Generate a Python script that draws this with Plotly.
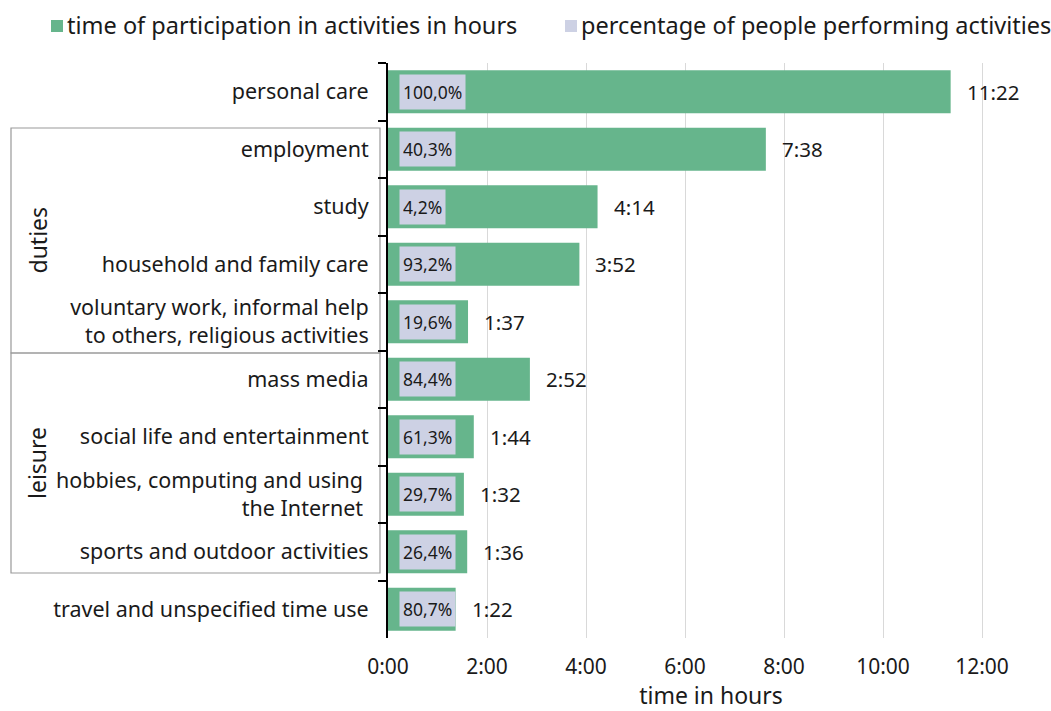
import plotly.graph_objects as go

categories = [
    "personal care",
    "employment",
    "study",
    "household and family care",
    "voluntary work, informal help<br>to others, religious activities",
    "mass media",
    "social life and entertainment",
    "hobbies, computing and using <br>the Internet ",
    "sports and outdoor activities",
    "travel and unspecified time use",
]
time_labels = ["11:22", "7:38", "4:14", "3:52", "1:37", "2:52", "1:44", "1:32", "1:36", "1:22"]
percent_labels = ["100,0%", "40,3%", "4,2%", "93,2%", "19,6%", "84,4%", "61,3%", "29,7%", "26,4%", "80,7%"]
x_tick_values = [0, 2, 4, 6, 8, 10, 12]
x_tick_labels = ["0:00", "2:00", "4:00", "6:00", "8:00", "10:00", "12:00"]
groups = ["duties", "leisure"]
legend_names = ["time of participation in activities in hours",
                "percentage of people performing activities"]


def to_hours(s):
    h, m = s.split(":")
    return int(h) + int(m) / 60.0


hours = [to_hours(t) for t in time_labels]

FONT = "Noto Sans"
GREEN = "#66b58c"
LAV = "#cdd1e4"
TXT = "#1a1a1a"
FS = 21.5

W, H = 1051, 711
L, R, T, B = 388, 1034, 63, 638
X_MAX = 12 * (R - L) / (982 - L)
pw, ph = R - L, B - T


def px_to_paper_x(px):
    return (px - L) / pw


def px_to_paper_y(py):
    return 1 - (py - T) / ph


def px_to_data_y(py):
    return -0.5 + (py - T) / (ph / len(categories))


fig = go.Figure()
fig.add_trace(go.Bar(
    y=categories, x=hours, orientation="h",
    marker=dict(color=GREEN, line=dict(width=0)),
    name=legend_names[0],
    hoverinfo="skip",
    showlegend=False,
))

annotations = []
for c, v, t, p in zip(categories, hours, time_labels, percent_labels):
    annotations.append(dict(
        x=0, y=c, xref="x", yref="y", text=p, showarrow=False,
        xanchor="left", yanchor="middle", xshift=11,
        bgcolor=LAV, borderpad=3, height=28,
        font=dict(family=FONT, size=17.5, color=TXT),
    ))
    annotations.append(dict(
        x=v, y=c, xref="x", yref="y", text=t, showarrow=False,
        xanchor="left", yanchor="middle", xshift=14,
        font=dict(family=FONT, size=20.5, color=TXT),
    ))

shapes = []
# group boxes and labels
box_tops = [128, 353]
box_bottoms = [353, 573]
for g, t0, b0 in zip(groups, box_tops, box_bottoms):
    shapes.append(dict(
        type="rect", xref="paper", yref="y",
        x0=px_to_paper_x(11), x1=px_to_paper_x(380),
        y0=px_to_data_y(t0), y1=px_to_data_y(b0),
        line=dict(color="#999999", width=1.2), fillcolor="rgba(0,0,0,0)",
        layer="below",
    ))
    annotations.append(dict(
        x=px_to_paper_x(37), y=px_to_data_y((t0 + b0) / 2), xref="paper", yref="y",
        text=g, textangle=-90, showarrow=False, xanchor="center", yanchor="middle",
        font=dict(family=FONT, size=23, color=TXT),
    ))

# manual legend
legend_colors = [GREEN, LAV]
legend_sq_x = [51, 565]
for name, col, sx in zip(legend_names, legend_colors, legend_sq_x):
    shapes.append(dict(
        type="rect", xref="paper", yref="paper",
        x0=px_to_paper_x(sx), x1=px_to_paper_x(sx + 12),
        y0=px_to_paper_y(32), y1=px_to_paper_y(20),
        line=dict(width=0), fillcolor=col,
    ))
    annotations.append(dict(
        x=px_to_paper_x(sx + 14), y=px_to_paper_y(25), xref="paper", yref="paper",
        text=name, showarrow=False, xanchor="left", yanchor="middle",
        font=dict(family=FONT, size=23.5, color=TXT),
    ))

fig.update_layout(
    width=W, height=H,
    margin=dict(l=L, r=W - R, t=T, b=H - B),
    paper_bgcolor="white", plot_bgcolor="white",
    bargap=0.25,
    showlegend=False,
    xaxis=dict(
        range=[0, X_MAX], tickvals=x_tick_values, ticktext=x_tick_labels,
        showgrid=True, gridcolor="#d9d9d9", gridwidth=1, zeroline=False,
        showline=False, ticks="",
        tickfont=dict(family=FONT, size=21, color=TXT),
        ticklabelstandoff=14,
        title=dict(text="time in hours", font=dict(family=FONT, size=23, color=TXT), standoff=19),
        fixedrange=True, automargin=False,
    ),
    yaxis=dict(
        type="category", autorange="reversed",
        showline=True, linecolor="black", linewidth=2,
        ticks="outside", ticklen=8, tickcolor="black", tickwidth=2,
        tickson="boundaries", showgrid=False, zeroline=False,
        tickfont=dict(family=FONT, size=FS, color=TXT),
        ticklabelstandoff=13,
        fixedrange=True, automargin=False,
    ),
    annotations=annotations,
    shapes=shapes,
    font=dict(family=FONT, color=TXT),
)

fig.write_html("out.html")
